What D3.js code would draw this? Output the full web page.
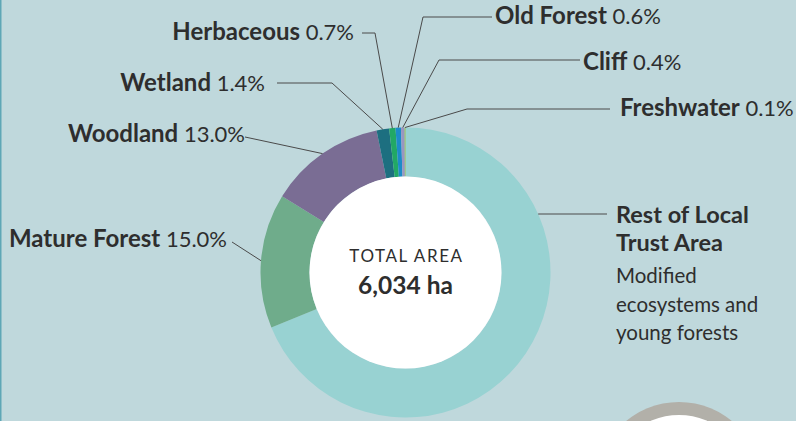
<!DOCTYPE html>
<html>
<head>
<meta charset="utf-8">
<script src="https://cdn.jsdelivr.net/npm/d3@7"></script>
<style>
  html, body { margin: 0; padding: 0; background: #bfd8dc; }
  svg { display: block; }
  text { font-family: Lato, "Open Sans", sans-serif; fill: #2e2e2e; }
</style>
</head>
<body>
<div id="chart"></div>
<script>
// land cover shares (% of local trust area), clockwise from 12 o'clock
const categories = ['Rest of Local Trust Area', 'Mature Forest', 'Woodland', 'Wetland',
                    'Herbaceous', 'Old Forest', 'Cliff', 'Freshwater'];
const shares = [68.8, 15.0, 13.0, 1.4, 0.7, 0.6, 0.4, 0.1];
const sliceColors = ['#98d2d2', '#6fac8b', '#7a6d94', '#1d6f80',
                     '#22a865', '#1c8cc8', '#9a96c0', '#8cc04e'];
const centerTitle = 'TOTAL AREA';
const centerValue = '6,034 ha';
const restLines = ['Rest of Local', 'Trust Area'];
const restNote = ['Modified', 'ecosystems and', 'young forests'];

const width = 796, height = 421;
const cx = 405.5, cy = 272.5;
const outerR = 145, innerR = 96;

// label placement: text position, optional elbow, end of leader line
const labelLayout = {
    'Mature Forest': { x: 227, y: 247, anchor: 'end', end: [232, 242] },
    'Woodland':      { x: 245, y: 142, anchor: 'end', end: [245, 137] },
    'Wetland':       { x: 265, y: 91,  anchor: 'end', elbow: [332, 83], end: [277, 83] },
    'Herbaceous':    { x: 354, y: 40,  anchor: 'end', elbow: [375, 33], end: [362, 33] },
    'Old Forest':    { x: 495, y: 24,  anchor: 'start', elbow: [423, 17], end: [492, 17] },
    'Cliff':         { x: 583, y: 70,  anchor: 'start', elbow: [439, 60], end: [580, 60] },
    'Freshwater':    { x: 620, y: 116, anchor: 'start', elbow: [467, 109], end: [610, 109] }
};

const svg = d3.select('#chart').append('svg')
              .attr('width', width)
              .attr('height', height);

// left edge rule
svg.append('line')
   .attr('x1', 0.75).attr('x2', 0.75)
   .attr('y1', 0).attr('y2', height)
   .attr('stroke', '#5ea7b6')
   .attr('stroke-width', 1.5);

// partial ring at the bottom right
const ring = svg.append('g').attr('transform', 'translate(679,485)');
ring.append('circle').attr('r', 83).attr('fill', '#b2b0a9');
ring.append('circle').attr('r', 70).attr('fill', '#ffffff');

const pie = d3.pie().sort(null).value(d => d);
const arcs = pie(shares);

const arc = d3.arc().innerRadius(innerR).outerRadius(outerR);

const g = svg.append('g').attr('transform', `translate(${cx},${cy})`);

g.selectAll('path')
 .data(arcs)
 .enter().append('path')
 .attr('d', arc)
 .attr('fill', (d, i) => sliceColors[i]);

g.append('circle').attr('r', innerR).attr('fill', '#ffffff');

g.append('text')
 .attr('text-anchor', 'middle')
 .attr('x', 1)
 .attr('y', -11)
 .style('font-size', '17px')
 .style('letter-spacing', '1.6px')
 .text(centerTitle);

g.append('text')
 .attr('text-anchor', 'middle')
 .attr('y', 21)
 .style('font-size', '24.5px')
 .style('font-weight', 700)
 .text(centerValue);

const pct = d3.format('.1f');
const onRing = (angle, r) => [cx + r * Math.sin(angle), cy - r * Math.cos(angle)];

const leaders = svg.append('g')
                   .attr('fill', 'none')
                   .attr('stroke', '#4a4a4a')
                   .attr('stroke-width', 1);

arcs.forEach((d, i) => {
    const name = categories[i];
    const lay = labelLayout[name];
    if (!lay) return;
    const mid = (d.startAngle + d.endAngle) / 2;
    const pts = [onRing(mid, outerR)];
    if (lay.elbow) pts.push(lay.elbow);
    pts.push(lay.end);
    leaders.append('path').attr('d', d3.line()(pts));

    const t = svg.append('text')
                 .attr('x', lay.x)
                 .attr('y', lay.y)
                 .attr('text-anchor', lay.anchor);
    t.append('tspan').style('font-weight', 700).style('font-size', '24px').text(name);
    t.append('tspan').style('font-weight', 400).style('font-size', '22px')
     .text(' ' + pct(shares[i]) + '%');
});

// rest of local trust area label: leader at y=214 from ring edge
const restY = 214;
const restX = cx + Math.sqrt(outerR * outerR - (cy - restY) * (cy - restY));
leaders.append('path').attr('d', d3.line()([[restX, restY], [607, restY]]));

restLines.forEach((s, i) => {
    svg.append('text')
       .attr('x', 616).attr('y', 223 + i * 28)
       .style('font-size', '23.5px')
       .style('font-weight', 700)
       .text(s);
});
restNote.forEach((s, i) => {
    svg.append('text')
       .attr('x', 616).attr('y', 283 + i * 28.5)
       .style('font-size', '20.5px')
       .text(s);
});
</script>
</body>
</html>
